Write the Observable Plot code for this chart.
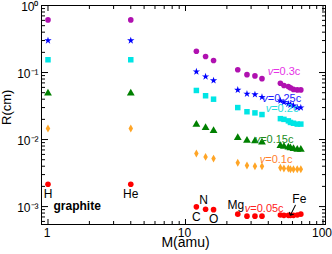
<!DOCTYPE html>
<html><head><meta charset="utf-8">
<script src="https://cdn.jsdelivr.net/npm/d3@7"></script>
<script src="https://cdn.jsdelivr.net/npm/@observablehq/plot@0.6"></script>
<style>html,body{margin:0;padding:0;background:#fff}svg{display:block;overflow:visible}</style>
</head><body><div id="chart"></div>
<script>
// ---- data ----
const masses = [1, 4, 12, 14, 16, 24, 28, 32, 36, 49, 52, 56, 58, 61, 65, 69];
const r005 = [0.00215, 0.00215, 0.00099, 0.00091, 0.00090, 0.00077, 0.00072, 0.00072, 0.00072, 0.00075, 0.00074, 0.00074, 0.00074, 0.00074, 0.00075, 0.00077];
const r010 = [0.0146, 0.0146, 0.0062, 0.0055, 0.0052, 0.0045, 0.0041, 0.0040, 0.0040, 0.0038, 0.0037, 0.0037, 0.0036, 0.0036, 0.0036, 0.0036];
const r015 = [0.049, 0.049, 0.0167, 0.0150, 0.0135, 0.0106, 0.0097, 0.0095, 0.0091, 0.0081, 0.0079, 0.0077, 0.0075, 0.0073, 0.0071, 0.0071];
const r020 = [0.155, 0.155, 0.054, 0.045, 0.040, 0.030, 0.026, 0.025, 0.0236, 0.0205, 0.0200, 0.0190, 0.0180, 0.0175, 0.0170, 0.0170];
const r025 = [0.30, 0.30, 0.103, 0.087, 0.076, 0.055, 0.048, 0.047, 0.043, 0.038, 0.036, 0.034, 0.033, 0.032, 0.030, 0.030];
const r030 = [0.61, 0.61, 0.208, 0.173, 0.151, 0.110, 0.093, 0.089, 0.081, 0.069, 0.064, 0.062, 0.059, 0.056, 0.055, 0.055];
const seriesNames = ["=0.05c", "=0.1c", "=0.15c", "=0.2c", "=0.25c", "=0.3c"];
const labelMass = [29.6, 38, 34.9, 42, 39.7, 43.4];
const labelR = [0.00093, 0.00508, 0.0101, 0.0287, 0.0405, 0.1035];
const elementsBelow = ["H", "He", "C", "O"];
const elementsBelowMass = [1, 4, 12, 16];
const elementsAbove = ["N", "Mg"];
const elementsAboveMass = [14, 24];
const arrowElement = "Fe";
const arrowElementMass = 56;
const xMajor = [1, 10, 100];
const xMinor = [2, 3, 4, 5, 6, 7, 8, 9, 20, 30, 40, 50, 60, 70, 80, 90];
const yMajor = [1, 0.1, 0.01, 0.001];
const yMinor = [0.0006, 0.0007, 0.0008, 0.0009, 0.002, 0.003, 0.004, 0.005, 0.006, 0.007, 0.008, 0.009,
  0.02, 0.03, 0.04, 0.05, 0.06, 0.07, 0.08, 0.09, 0.2, 0.3, 0.4, 0.5, 0.6, 0.7, 0.8, 0.9];

// ---- styles ----
const font = "'Liberation Sans', Arial, Helvetica, sans-serif";
const diamond = {draw(ctx, size) {
  const r = Math.sqrt(size / Math.PI);
  const h = r * 1.4, w = r * 0.8;
  ctx.moveTo(0, -h); ctx.lineTo(w, 0); ctx.lineTo(0, h); ctx.lineTo(-w, 0); ctx.closePath();
}};
const seriesValues = [r005, r010, r015, r020, r025, r030];
const seriesStyle = [
  {fill: "#ff0000", text: "#ff2020", symbol: "circle", r: 2.8},
  {fill: "#ffa526", text: "#ff7f2a", symbol: diamond, r: 2.8},
  {fill: "#008000", text: "#1b8b1b", symbol: "triangle", r: 2.9},
  {fill: "#00e5e5", text: "#22dddd", symbol: "square", r: 3.1},
  {fill: "#0000ff", text: "#1c1cff", symbol: "star", r: 2.3},
  {fill: "#b011b0", text: "#e633e6", symbol: "circle", r: 2.8}
];
const sup = {"0": "\u2070", "1": "\u00b9", "2": "\u00b2", "3": "\u00b3", "-": "\u207b"};
const fmtPow = d => "10" + String(Math.round(Math.log10(d))).split("").map(c => sup[c]).join("");
const redAt = m => r005[masses.indexOf(m)];

const marks = [];
// ticks (inward)
for (const anchor of ["bottom", "top"]) {
  marks.push(Plot.axisX(xMajor, {anchor, tickSize: -5, tickFormat: () => "", label: null}));
  marks.push(Plot.axisX(xMinor, {anchor, tickSize: -3, tickFormat: () => "", label: null}));
}
for (const anchor of ["left", "right"]) {
  marks.push(Plot.axisY(yMajor, {anchor, tickSize: -7, tickFormat: () => "", label: null}));
  marks.push(Plot.axisY(yMinor, {anchor, tickSize: -4, tickFormat: () => "", label: null}));
}
marks.push(Plot.frame({stroke: "#000", strokeWidth: 1}));
marks.push(Plot.axisX(xMajor, {anchor: "bottom", tickSize: 0, tickPadding: 4, dx: -1, fontSize: 12, tickFormat: d => String(d), label: null}));
marks.push(Plot.axisY(yMajor, {anchor: "left", tickSize: 0, tickPadding: 3, dy: 1.5, fontSize: 12, tickFormat: fmtPow, label: null}));
marks.push(Plot.text(["M(amu)"], {frameAnchor: "bottom", dy: 22.5, dx: 2, fontSize: 14, fill: "#000"}));
marks.push(Plot.text(["R(cm)"], {frameAnchor: "left", dx: -34.5, dy: 10, rotate: -90, fontSize: 13, fill: "#000"}));

// points
seriesValues.forEach((vals, i) => {
  const s = seriesStyle[i];
  marks.push(Plot.dot(masses.map((m, j) => ({m, v: vals[j]})), {x: "m", y: "v", symbol: s.symbol, r: s.r, fill: s.fill, stroke: "none"}));
});
// series labels
seriesNames.forEach((name, i) => {
  const s = seriesStyle[i];
  marks.push(Plot.text([name], {x: () => labelMass[i], y: () => labelR[i], text: d => d, textAnchor: "start", fontSize: 11, fill: s.text}));
  marks.push(Plot.text(["v"], {x: () => labelMass[i], y: () => labelR[i], text: d => d, textAnchor: "end", fontSize: 11, fontStyle: "italic", fill: s.text}));
});
// element labels
marks.push(Plot.text(elementsBelow, {x: (d, i) => elementsBelowMass[i], y: (d, i) => redAt(elementsBelowMass[i]), text: d => d, dy: 10, fontSize: 12, fill: "#000"}));
marks.push(Plot.text(elementsAbove, {x: (d, i) => elementsAboveMass[i], y: (d, i) => redAt(elementsAboveMass[i]), text: d => d, dy: -9.5, dx: -2, fontSize: 12, fill: "#000"}));
marks.push(Plot.text([arrowElement], {x: () => arrowElementMass, y: () => redAt(arrowElementMass), text: d => d, dx: 11, dy: -16, fontSize: 12, fill: "#000"}));
marks.push(Plot.vector([arrowElement], {x: () => arrowElementMass, y: () => redAt(arrowElementMass), anchor: "end", length: 11.2, rotate: 206.6, dx: 2, stroke: "#000", strokeWidth: 1}));
marks.push(Plot.text(["graphite"], {frameAnchor: "bottom-left", dx: 12, dy: -15, textAnchor: "start", fontSize: 12, fontWeight: "bold", fill: "#000"}));

const chart = Plot.plot({
  width: 332, height: 254,
  marginLeft: 41, marginRight: 7, marginTop: 5, marginBottom: 30,
  x: {type: "log", domain: [0.897, 104.3]},
  y: {type: "log", domain: [5.4e-4, 1]},
  style: {fontFamily: font, fontSize: "12px", background: "#fff", color: "#000"},
  marks
});
document.getElementById("chart").appendChild(chart);
</script>
</body></html>
